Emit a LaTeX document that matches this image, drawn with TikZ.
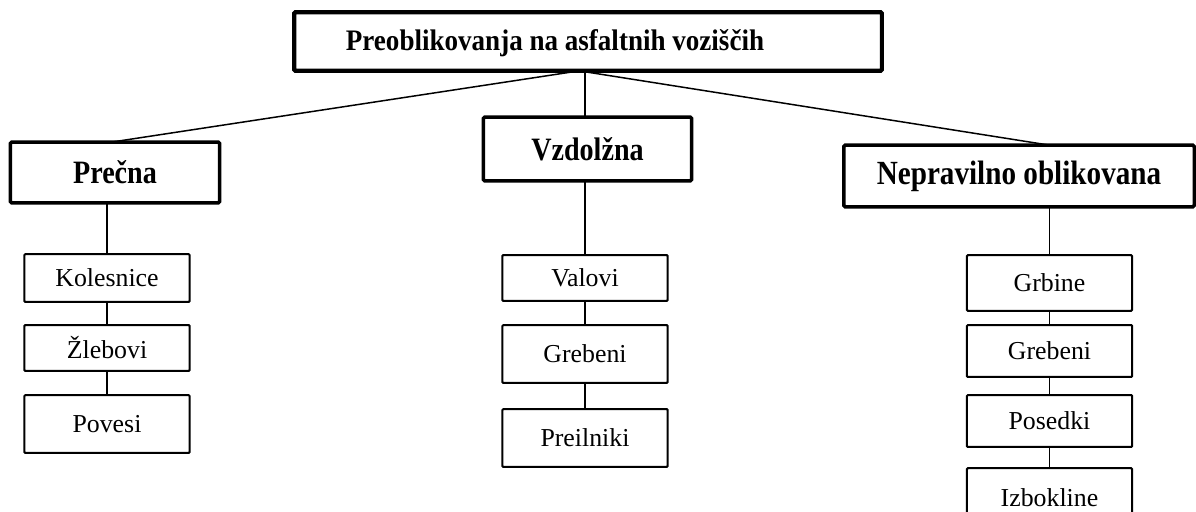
\documentclass[tikz,border=0pt]{standalone}
\usepackage{fontspec}
\setmainfont{Liberation Serif}
\newcommand{\tallbf}[1]{\scalebox{1}[1.16]{#1}}
\begin{document}
\begin{tikzpicture}[x=0.02cm,y=-0.02cm,
  headbox/.style={draw, line width=2pt, rounded corners=0.8pt, inner sep=0pt, outer sep=0pt, font=\fontsize{16}{18}\selectfont\bfseries},
  itembox/.style={draw, line width=1.2pt, rounded corners=0.6pt, inner sep=0pt, outer sep=0pt, minimum width=94.1pt, font=\fontsize{14.7}{17}\selectfont},
  link/.style={line width=0.85pt}]
\useasboundingbox (0,0) rectangle (1196,511);
% top
\node[headbox, line width=2.4pt, minimum width=334.5pt, minimum height=33.4pt] (top) at (588,41.5) {};
\node[inner sep=0pt, font=\fontsize{15.4}{18}\selectfont\bfseries] (toptxt) at (555,43) {\scalebox{1}[1.1]{Preoblikovanja na asfaltnih voziščih}};
\node[headbox, minimum width=119pt, minimum height=34.6pt] (pre) at (115,172.5) {\tallbf{Prečna}};
\node[headbox, minimum width=118.5pt, minimum height=36.3pt] (vz) at (587.5,149) {\tallbf{Vzdolžna}};
\node[headbox, minimum width=199.5pt, minimum height=35.1pt, font=\fontsize{16.6}{18}\selectfont\bfseries] (nep) at (1019,176) {\tallbf{Nepravilno oblikovana}};
% left column
\node[itembox, minimum height=27.2pt] (kol) at (107,278) {Kolesnice};
\node[itembox, minimum height=26.1pt] (zle) at (107,348) {Žlebovi};
\node[itembox, minimum height=32.9pt] (pov) at (107,424) {Povesi};
% middle column
\node[itembox, minimum height=26.1pt] (val) at (585,278) {Valovi};
\node[itembox, minimum height=32.9pt] (greb) at (585,354) {Grebeni};
\node[itembox, minimum height=32.9pt] (prei) at (585,438) {Preilniki};
% right column
\node[itembox, minimum height=31.7pt] (grb) at (1049.5,283) {Grbine};
\node[itembox, minimum height=29.5pt] (gre) at (1049.5,351) {Grebeni};
\node[itembox, minimum height=29.5pt] (pos) at (1049.5,421) {Posedki};
\node[itembox, minimum height=34pt] (izb) at (1049.5,498) {Izbokline};
% connectors
\coordinate (jn) at ([xshift=-5pt]top.south);
\draw[link] (jn) -- ([xshift=-2pt]pre.north);
\draw[link] (val.north |- top.south) -- (val.north |- vz.north);
\draw[link] (jn) -- (grb.north |- nep.north);
\draw[link] (kol.north |- pre.south) -- (kol.north);
\draw[link] (kol) -- (zle);
\draw[link] (zle) -- (pov);
\draw[link] (val.north |- vz.south) -- (val.north);
\draw[link] (val) -- (greb);
\draw[link] (greb) -- (prei);
\draw[link] (grb.north |- nep.south) -- (grb.north);
\draw[link] (grb) -- (gre);
\draw[link] (gre) -- (pos);
\draw[link] (pos) -- (izb);
\end{tikzpicture}
\end{document}
